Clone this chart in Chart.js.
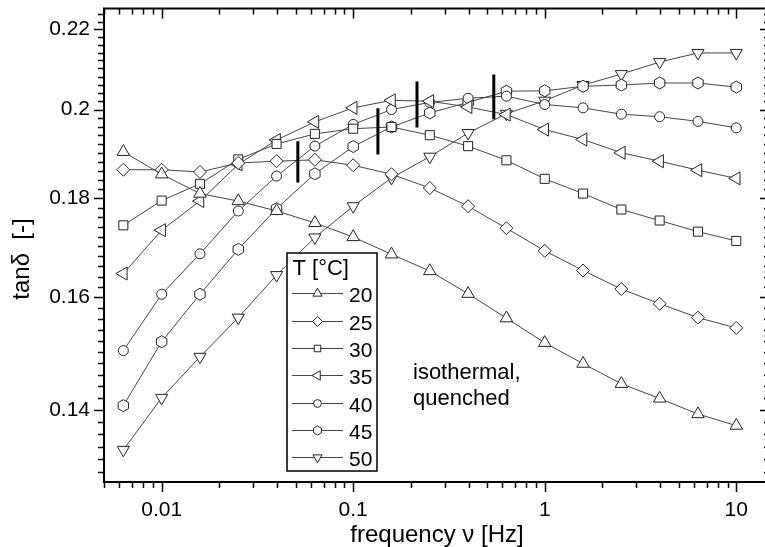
<!DOCTYPE html>
<html>
<head>
<meta charset="utf-8">
<script src="https://cdn.jsdelivr.net/npm/chart.js@4.4.1/dist/chart.umd.min.js"></script>
<style>
html,body{margin:0;padding:0;background:#fff;overflow:hidden;width:765px;height:547px;}
#wrap{width:780px;height:547px;}
canvas{display:block;}
</style>
</head>
<body>
<div id="wrap"><canvas id="c" width="780" height="547"></canvas></div>
<script>
// ---------------- data ----------------
const frequencies = [0.00631, 0.01, 0.01585, 0.02512, 0.03981, 0.0631, 0.1, 0.1585, 0.2512, 0.3981, 0.631, 1, 1.585, 2.512, 3.981, 6.31, 10];
const temperatureLabels = ['20', '25', '30', '35', '40', '45', '50'];
const tanDelta20 = [0.1902, 0.1852, 0.1810, 0.1794, 0.1773, 0.1748, 0.1719, 0.1684, 0.1651, 0.1607, 0.1561, 0.1516, 0.1479, 0.1444, 0.1419, 0.1393, 0.1374];
const tanDelta25 = [0.1862, 0.1862, 0.1857, 0.1877, 0.1881, 0.1884, 0.1872, 0.1852, 0.1822, 0.1783, 0.1737, 0.1691, 0.1652, 0.1616, 0.1588, 0.1562, 0.1543];
const tanDelta30 = [0.1743, 0.1795, 0.1831, 0.1885, 0.1920, 0.1943, 0.1955, 0.1959, 0.1940, 0.1915, 0.1883, 0.1842, 0.1810, 0.1776, 0.1753, 0.1730, 0.1711];
const tanDelta35 = [0.1646, 0.1733, 0.1794, 0.1874, 0.1929, 0.1971, 0.2004, 0.2022, 0.2020, 0.2006, 0.1988, 0.1953, 0.1930, 0.1900, 0.1881, 0.1861, 0.1843];
const tanDelta40 = [0.1502, 0.1606, 0.1685, 0.1773, 0.1848, 0.1915, 0.1965, 0.2000, 0.2017, 0.2027, 0.2032, 0.2012, 0.2004, 0.1989, 0.1983, 0.1972, 0.1957];
const tanDelta45 = [0.1407, 0.1518, 0.1606, 0.1694, 0.1778, 0.1853, 0.1914, 0.1959, 0.1992, 0.2017, 0.2044, 0.2045, 0.2056, 0.2059, 0.2064, 0.2064, 0.2054];
const tanDelta50 = [0.1335, 0.1420, 0.1491, 0.1562, 0.1643, 0.1718, 0.1783, 0.1844, 0.1891, 0.1945, 0.1990, 0.2021, 0.2059, 0.2086, 0.2116, 0.2139, 0.2139];
// peak markers (vertical bars): frequency, lower and upper end
const peakFrequencies = [0.0514, 0.1346, 0.2153, 0.542];
const peakLow = [0.1834, 0.1896, 0.1958, 0.1977];
const peakHigh = [0.1926, 0.2003, 0.2068, 0.2085];
// ticks
const xTickValues = [0.01, 0.1, 1, 10];
const xTickLabels = ['0.01', '0.1', '1', '10'];
const yTickValues = [0.14, 0.16, 0.18, 0.2, 0.22];
const yTickLabels = ['0.14', '0.16', '0.18', '0.2', '0.22'];
const xAxisTitle = 'frequency \u03BD [Hz]';
const yAxisTitle = 'tan\u03B4  [-]';
const legendTitle = 'T [\u00B0C]';
const noteLines = ['isothermal,', 'quenched'];

// ---------------- styling ----------------
const FONT = "'Liberation Sans', Arial, sans-serif";
const LINE_COLOR = '#454545';
const MARK_COLOR = '#222';
const HEX_INDEX = 5;

function hexPath(ctx, x, y, R) {
  ctx.beginPath();
  for (let i = 0; i < 6; i++) {
    const a = Math.PI / 2 + i * Math.PI / 3;
    const px = x + R * Math.cos(a), py = y - R * Math.sin(a);
    if (i) ctx.lineTo(px, py); else ctx.moveTo(px, py);
  }
  ctx.closePath();
}
function drawHex(ctx, x, y, R) {
  hexPath(ctx, x, y, R);
  ctx.fillStyle = '#fff'; ctx.fill();
  ctx.strokeStyle = MARK_COLOR; ctx.lineWidth = 1; ctx.stroke();
}

const seriesValues = [tanDelta20, tanDelta25, tanDelta30, tanDelta35, tanDelta40, tanDelta45, tanDelta50];
const markerStyles = [
  {pointStyle: 'triangle', rotation: 0, radius: 7.2, legendRadius: 5.3},
  {pointStyle: 'rectRot', rotation: 0, radius: 6.5, legendRadius: 5},
  {pointStyle: 'rect', rotation: 0, radius: 6.4, legendRadius: 4.6},
  {pointStyle: 'triangle', rotation: -90, radius: 7.5, legendRadius: 5.5},
  {pointStyle: 'circle', rotation: 0, radius: 5, legendRadius: 3.9},
  {pointStyle: 'hex', rotation: 0, radius: 6, legendRadius: 4.5},
  {pointStyle: 'triangle', rotation: 180, radius: 7, legendRadius: 5.3}
];

const datasets = temperatureLabels.map((t, i) => {
  const isHex = markerStyles[i].pointStyle === 'hex';
  return {
    label: t,
    data: frequencies.map((f, k) => ({x: f, y: seriesValues[i][k]})),
    showLine: true,
    borderColor: LINE_COLOR,
    borderWidth: 1,
    tension: 0,
    pointStyle: isHex ? 'circle' : markerStyles[i].pointStyle,
    pointRotation: markerStyles[i].rotation,
    pointRadius: isHex ? 0 : markerStyles[i].radius,
    pointHoverRadius: isHex ? 0 : markerStyles[i].radius,
    pointBackgroundColor: '#fff',
    pointBorderColor: MARK_COLOR,
    pointBorderWidth: 1,
    order: 1
  };
});
peakFrequencies.forEach((f, j) => {
  datasets.push({
    label: 'peak',
    data: [{x: f, y: peakLow[j]}, {x: f, y: peakHigh[j]}],
    showLine: true,
    borderColor: '#000',
    borderWidth: 3,
    pointRadius: 0,
    pointHoverRadius: 0,
    order: 0
  });
});

function drawMarker(ctx, ms, radius, x, y) {
  if (ms.pointStyle === 'hex') { drawHex(ctx, x, y, radius); return; }
  ctx.fillStyle = '#fff';
  ctx.strokeStyle = MARK_COLOR;
  ctx.lineWidth = 1;
  Chart.helpers.drawPoint(ctx, {pointStyle: ms.pointStyle, rotation: ms.rotation, radius: radius, borderWidth: 1}, x, y);
}

const hexPlugin = {
  id: 'hexMarkers',
  afterDatasetDraw(chart, args) {
    if (args.index !== HEX_INDEX) return;
    const ctx = chart.ctx;
    ctx.save();
    args.meta.data.forEach(pt => drawHex(ctx, pt.x, pt.y, markerStyles[HEX_INDEX].radius));
    ctx.restore();
  }
};

const decorPlugin = {
  id: 'decor',
  afterDatasetsDraw(chart) {
    const {ctx, chartArea: a, scales: {x, y}} = chart;
    ctx.save();
    // ---- frame ----
    ctx.strokeStyle = '#000';
    ctx.lineWidth = 2;
    ctx.beginPath();
    ctx.moveTo(a.left, a.top - 1); ctx.lineTo(a.left, a.bottom + 1);
    ctx.moveTo(a.left - 1, a.bottom); ctx.lineTo(a.right + 1, a.bottom);
    ctx.moveTo(a.left - 1, a.top); ctx.lineTo(a.right + 1, a.top);
    ctx.moveTo(a.right, a.top - 1); ctx.lineTo(a.right, a.bottom + 1);
    ctx.stroke();
    // ---- tick marks ----
    ctx.lineWidth = 1.5;
    ctx.beginPath();
    for (let e = -4; e <= 3; e++) {
      for (let m = 1; m <= 9; m++) {
        const v = m * Math.pow(10, e);
        if (v < x.min * 0.999 || v > x.max * 1.001) continue;
        const px = Math.round(x.getPixelForValue(v)) + 0.5;
        const L = (m === 1) ? 10 : 6;
        ctx.moveTo(px, a.bottom); ctx.lineTo(px, a.bottom + L);
        ctx.moveTo(px, a.top); ctx.lineTo(px, a.top + L);
      }
    }
    for (let n = 64; n <= 113; n++) {
      const v = n * 0.002;
      if (v < y.min || v > y.max) continue;
      const py = Math.round(y.getPixelForValue(v)) + 0.5;
      const L = (n % 10 === 0) ? 10 : 6;
      ctx.moveTo(a.left, py); ctx.lineTo(a.left - L, py);
      ctx.moveTo(a.right, py); ctx.lineTo(a.right - L, py);
    }
    ctx.stroke();

    // ---- axis titles ----
    ctx.fillStyle = '#000';
    ctx.font = '24px ' + FONT;
    ctx.textAlign = 'center';
    ctx.textBaseline = 'alphabetic';
    ctx.fillText(xAxisTitle, (a.left + a.right) / 2, 542);
    ctx.save();
    ctx.translate(29, 259);
    ctx.rotate(-Math.PI / 2);
    ctx.fillText(yAxisTitle, 0, 0);
    ctx.restore();

    // ---- annotation ----
    ctx.font = '22px ' + FONT;
    ctx.textAlign = 'left';
    ctx.fillText(noteLines[0], 413, 379);
    ctx.fillText(noteLines[1], 413, 405);

    // ---- legend ----
    const bx = 287, by = 253, bw = 90, bh = 218;
    ctx.fillStyle = '#fff';
    ctx.fillRect(bx, by, bw, bh);
    ctx.strokeStyle = '#000';
    ctx.lineWidth = 1.5;
    ctx.strokeRect(bx, by, bw, bh);
    ctx.fillStyle = '#000';
    ctx.font = '22px ' + FONT;
    ctx.fillText(legendTitle, 292.5, 274.5);
    ctx.font = '21px ' + FONT;
    temperatureLabels.forEach((t, i) => {
      const cy = Math.round(293.3 + i * 27.33) + 0.5;
      ctx.strokeStyle = LINE_COLOR;
      ctx.lineWidth = 1;
      ctx.beginPath();
      ctx.moveTo(292, cy); ctx.lineTo(343, cy);
      ctx.stroke();
      drawMarker(ctx, markerStyles[i], markerStyles[i].legendRadius, 317.5, cy);
      ctx.fillStyle = '#000';
      ctx.fillText(t, 349, cy + 8);
    });
    ctx.restore();
  }
};

function noPad(s) { s.paddingTop = 0; s.paddingBottom = 0; s.paddingLeft = 0; s.paddingRight = 0; }

new Chart(document.getElementById('c'), {
  type: 'scatter',
  data: {datasets: datasets},
  options: {
    responsive: false,
    animation: false,
    devicePixelRatio: 1,
    events: [],
    layout: {padding: {left: 0, top: 7, right: 10, bottom: 0}},
    plugins: {legend: {display: false}, tooltip: {enabled: false}},
    scales: {
      x: {
        type: 'logarithmic',
        position: 'bottom',
        min: 0.005,
        max: 15,
        bounds: 'data',
        afterBuildTicks: s => { s.ticks = xTickValues.map(v => ({value: v})); },
        afterFit: s => { s.height = 65; noPad(s); },
        grid: {display: false, drawTicks: false, tickLength: 0},
        border: {display: false},
        ticks: {
          callback: (v, i) => xTickLabels[i],
          autoSkip: false, maxRotation: 0, minRotation: 0,
          padding: 16, color: '#000',
          font: {family: FONT, size: 21}
        }
      },
      y: {
        type: 'logarithmic',
        position: 'left',
        min: 0.1285,
        max: 0.2255,
        bounds: 'data',
        afterBuildTicks: s => { s.ticks = yTickValues.map(v => ({value: v})); },
        afterFit: s => { s.width = 104; noPad(s); },
        grid: {display: false, drawTicks: false, tickLength: 0},
        border: {display: false},
        ticks: {
          callback: (v, i) => yTickLabels[i],
          autoSkip: false,
          padding: 14, color: '#000',
          font: {family: FONT, size: 21}
        }
      }
    }
  },
  plugins: [hexPlugin, decorPlugin]
});
</script>
</body>
</html>
